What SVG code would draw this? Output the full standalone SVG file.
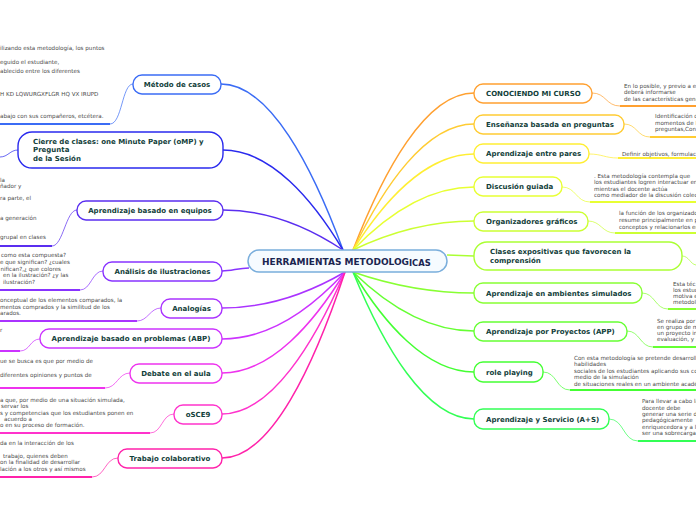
<svg xmlns="http://www.w3.org/2000/svg" width="696" height="520" viewBox="0 0 696 520">
<style>
.n{fill:#fff;stroke-width:1.4}
.t{font-family:"DejaVu Sans",Verdana,sans-serif;font-weight:bold;font-size:7px;fill:#12403a}
.tm{text-anchor:middle}
.s{font-family:"DejaVu Sans",Verdana,sans-serif;font-size:5.6px;fill:#4a4a4a}
.c{fill:none;stroke-width:1.5}
.u{fill:none;stroke-width:2}
.k{fill:none;stroke-width:1;opacity:.7}
</style>
<rect width="696" height="520" fill="#fff"/>
<g id="connectors">
<path class="c" stroke="#3b6cf5" d="M343,250 C312.5,167 269.8,84 221,84"/>
<path class="c" stroke="#2a2aee" d="M343,250 C313,200 271,150 223,150"/>
<path class="c" stroke="#5a2ef0" d="M343,250 C313,230 271,210 223,210"/>
<path class="c" stroke="#8833ff" d="M249,268 C238,268 232,271 222,271"/>
<path class="c" stroke="#aa33ff" d="M345,272 C314.25,290 271.2,308 222,308"/>
<path class="c" stroke="#cc33ff" d="M345,272 C314.25,305.5 271.2,339 222,339"/>
<path class="c" stroke="#ee33ee" d="M345,272 C314.25,322.5 271.2,373 222,373"/>
<path class="c" stroke="#ff33cc" d="M345,272 C314.25,343 271.2,414 222,414"/>
<path class="c" stroke="#ff22aa" d="M345,272 C314.25,365 271.2,458 222,458"/>
<path class="c" stroke="#ffa030" d="M353,250 C383.25,171.5 425.6,93 474,93"/>
<path class="c" stroke="#ffcc33" d="M353,250 C383.25,187 425.6,124 474,124"/>
<path class="c" stroke="#ffee33" d="M353,250 C383.25,202 425.6,154 474,154"/>
<path class="c" stroke="#e8ff33" d="M353,250 C383.25,218.5 425.6,187 474,187"/>
<path class="c" stroke="#ccff33" d="M353,250 C383.25,235.5 425.6,221 474,221"/>
<path class="c" stroke="#aaff33" d="M447,255 L474,256"/>
<path class="c" stroke="#88ff33" d="M353,272 C383.25,282.5 425.6,293 474,293"/>
<path class="c" stroke="#66ff33" d="M353,272 C383.25,301.5 425.6,331 474,331"/>
<path class="c" stroke="#44ff33" d="M353,272 C383.25,322 425.6,372 474,372"/>
<path class="c" stroke="#33ff55" d="M353,272 C383.25,345.5 425.6,419 474,419"/>
</g>
<g id="center">
<rect x="248" y="250" width="199" height="22" rx="11" fill="#f6fbff" stroke="#7aaedc" stroke-width="1.5"/>
<text x="262" y="264.5" font-family="DejaVu Sans,Verdana,sans-serif" font-weight="bold" font-size="9" fill="#1a2550">HERRAMIENTAS METODOLOG<tspan font-size="8.4" dy="1.3">ICAS</tspan></text>
</g>
<g id="metodo-casos">
<path class="k" stroke="#3b6cf5" d="M133,84 C122,84 122,124 110,124"/>
<path class="u" stroke="#3b6cf5" d="M110,124 L0,124"/>
<text class="s" x="0" y="50">ilizando esta metodología, los puntos</text>
<text class="s" x="0" y="64">eguido el estudiante,</text>
<text class="s" x="0" y="73">ablecido entre los diferentes</text>
<text class="s" x="0" y="96">H KD LQWURGXFLGR HQ VX IRUPD</text>
<text class="s" x="0" y="118">abajo con sus compañeros, etcétera.</text>
<rect class="n" stroke="#3b6cf5" x="133" y="75" width="88" height="19" rx="9"/>
<text class="t tm" x="177" y="87">Método de casos</text>
</g>
<g id="cierre">
<path class="k" stroke="#2a2aee" d="M18,150 C10,150 8,157 0,157"/>
<rect class="n" stroke="#2a2aee" x="18" y="132" width="205" height="36" rx="14"/>
<text class="t" x="33" y="144">Cierre de clases: one Minute Paper (oMP) y</text>
<text class="t" x="33" y="152">Pregunta</text>
<text class="t" x="33" y="160.5">de la Sesión</text>
</g>
<g id="equipos">
<path class="k" stroke="#5a2ef0" d="M77,210 C66,210 63,246 52,246"/>
<path class="u" stroke="#5a2ef0" d="M52,246 L0,246"/>
<text class="s" x="0" y="182">la</text>
<text class="s" x="0" y="188">ñador y</text>
<text class="s" x="0" y="200">ra parte, el</text>
<text class="s" x="0" y="220">a generación</text>
<text class="s" x="0" y="239">grupal en clases</text>
<rect class="n" stroke="#5a2ef0" x="77" y="201" width="146" height="19" rx="9"/>
<text class="t tm" x="150" y="213">Aprendizaje basado en equipos</text>
</g>
<g id="analisis">
<path class="k" stroke="#8833ff" d="M103,271 C92,271 91,290 80,290"/>
<path class="u" stroke="#8833ff" d="M80,290 L0,290"/>
<text class="s" x="1" y="257">como esta compuesta?</text>
<text class="s" x="0" y="264">e que significan? ¿cuales</text>
<text class="s" x="0.5" y="270.5">nifican?,¿ que colores</text>
<text class="s" x="3" y="277">en la ilustración? ¿y las</text>
<text class="s" x="3" y="283.5">ilustración?</text>
<rect class="n" stroke="#8833ff" x="103" y="262" width="119" height="19" rx="9"/>
<text class="t tm" x="162.5" y="274">Análisis de ilustraciones</text>
</g>
<g id="analogias">
<path class="k" stroke="#aa33ff" d="M161,308 C150,308 148,321 137,321"/>
<path class="u" stroke="#aa33ff" d="M137,321 L0,321"/>
<text class="s" x="0" y="302">onceptual de los elementos comparados, la</text>
<text class="s" x="0" y="308.5">mentos comprados y la similitud de los</text>
<text class="s" x="0" y="314.5">arados.</text>
<rect class="n" stroke="#aa33ff" x="161" y="299" width="61" height="19" rx="9"/>
<text class="t tm" x="191.5" y="311">Analogías</text>
</g>
<g id="abp">
<path class="k" stroke="#cc33ff" d="M40,339 C30,339 30,351 20,351"/>
<path class="u" stroke="#cc33ff" d="M20,351 L0,351"/>
<text class="s" x="0" y="332">r</text>
<rect class="n" stroke="#cc33ff" x="40" y="329" width="182" height="19" rx="9"/>
<text class="t tm" x="131" y="341">Aprendizaje basado en problemas (ABP)</text>
</g>
<g id="debate">
<path class="k" stroke="#ee33ee" d="M130,373 C118,373 117,388 105,388"/>
<path class="u" stroke="#ee33ee" d="M105,388 L0,388"/>
<text class="s" x="0" y="363">ue se busca es que por medio de</text>
<text class="s" x="0" y="377">diferentes opiniones y puntos de</text>
<rect class="n" stroke="#ee33ee" x="130" y="364" width="92" height="19" rx="9"/>
<text class="t tm" x="176" y="376">Debate en el aula</text>
</g>
<g id="osce9">
<path class="k" stroke="#ff33cc" d="M174,414 C162,414 162,433 150,433"/>
<path class="u" stroke="#ff33cc" d="M150,433 L0,433"/>
<text class="s" x="0" y="402">a que, por medio de una situación simulada,</text>
<text class="s" x="1" y="407.5">servar los</text>
<text class="s" x="0" y="415">s y competencias que los estudiantes ponen en</text>
<text class="s" x="4" y="421">acuerdo a</text>
<text class="s" x="0" y="427">o en su proceso de formación.</text>
<rect class="n" stroke="#ff33cc" x="174" y="405" width="48" height="19" rx="9"/>
<text class="t tm" x="198" y="417">oSCE9</text>
</g>
<g id="trabajo">
<path class="k" stroke="#ff22aa" d="M118,458 C105,458 105,477 92,477"/>
<path class="u" stroke="#ff22aa" d="M92,477 L0,477"/>
<text class="s" x="0" y="445">da en la interacción de los</text>
<text class="s" x="3" y="458">trabajo, quienes deben</text>
<text class="s" x="0" y="464">on la finalidad de desarrollar</text>
<text class="s" x="0" y="471">lación a los otros y así mismos</text>
<rect class="n" stroke="#ff22aa" x="118" y="449" width="104" height="19" rx="9"/>
<text class="t tm" x="170" y="461">Trabajo colaborativo</text>
</g>
<g id="conociendo">
<path class="k" stroke="#ffa030" d="M592,93 C606,93 606,106 620,106"/>
<path class="u" stroke="#ffa030" d="M620,106 L696,106"/>
<text class="s" x="624" y="88">En lo posible, y previo a e</text>
<text class="s" x="624" y="94">deberá informarse</text>
<text class="s" x="624" y="100.5">de las características gene</text>
<rect class="n" stroke="#ffa030" x="474" y="84" width="118" height="19" rx="9"/>
<text class="t" x="486" y="96">CONOCIENDO MI CURSO</text>
</g>
<g id="preguntas">
<path class="k" stroke="#ffcc33" d="M624,124 C637,124 637,137 650,137"/>
<path class="u" stroke="#ffcc33" d="M650,137 L696,137"/>
<text class="s" x="655" y="118">Identificación d</text>
<text class="s" x="655" y="124.5">momentos de l</text>
<text class="s" x="655" y="131">preguntas,Con</text>
<rect class="n" stroke="#ffcc33" x="474" y="115" width="150" height="19" rx="9"/>
<text class="t" x="486" y="127">Enseñanza basada en preguntas</text>
</g>
<g id="pares">
<path class="k" stroke="#ffee33" d="M589,154 C602,154 605,158 618,158"/>
<path class="u" stroke="#ffee33" d="M618,158 L696,158"/>
<text class="s" x="622" y="155.5">Definir objetivos, formulaci</text>
<rect class="n" stroke="#ffee33" x="474" y="144" width="115" height="19" rx="9"/>
<text class="t" x="486" y="156">Aprendizaje entre pares</text>
</g>
<g id="discusion">
<path class="k" stroke="#e8ff33" d="M562,187 C576,187 576,202 590,202"/>
<path class="u" stroke="#e8ff33" d="M590,202 L696,202"/>
<text class="s" x="594" y="177.5">. Esta metodología contempla que</text>
<text class="s" x="594" y="184">los estudiantes logren interactuar en</text>
<text class="s" x="594" y="190.5">mientras el docente actúa</text>
<text class="s" x="594" y="197">como mediador de la discusión colec</text>
<rect class="n" stroke="#e8ff33" x="474" y="177" width="88" height="19" rx="9"/>
<text class="t" x="486" y="189">Discusión guiada</text>
</g>
<g id="organizadores">
<path class="k" stroke="#ccff33" d="M588,221 C601,221 602,233 615,233"/>
<path class="u" stroke="#ccff33" d="M615,233 L696,233"/>
<text class="s" x="619" y="215">la función de los organizado</text>
<text class="s" x="619" y="222">resume principalmente en p</text>
<text class="s" x="619" y="228.5">conceptos y relacionarlos en</text>
<rect class="n" stroke="#ccff33" x="474" y="212" width="114" height="19" rx="9"/>
<text class="t" x="486" y="224">Organizadores gráficos</text>
</g>
<g id="clases">
<path class="k" stroke="#aaff33" d="M682,256 C689,256 690,264 696,265"/>
<rect class="n" stroke="#aaff33" x="474" y="242" width="208" height="28" rx="13"/>
<text class="t" x="490" y="253.5">Clases expositivas que favorecen la</text>
<text class="t" x="490" y="262.5">comprensión</text>
</g>
<g id="ambientes">
<path class="k" stroke="#88ff33" d="M642,293 C655,293 655,309 668,309"/>
<path class="u" stroke="#88ff33" d="M668,309 L696,309"/>
<text class="s" x="673" y="285.5">Esta téc</text>
<text class="s" x="673" y="291.5">los estud</text>
<text class="s" x="673" y="297.5">motiva e</text>
<text class="s" x="673" y="303.5">metodolo</text>
<rect class="n" stroke="#88ff33" x="474" y="283" width="168" height="20" rx="9"/>
<text class="t" x="486" y="296">Aprendizaje en ambientes simulados</text>
</g>
<g id="proyectos">
<path class="k" stroke="#66ff33" d="M627,331 C640,331 640,347 653,347"/>
<path class="u" stroke="#66ff33" d="M653,347 L696,347"/>
<text class="s" x="657" y="323">Se realiza por</text>
<text class="s" x="657" y="329">en grupo de m</text>
<text class="s" x="657" y="335">un proyecto in</text>
<text class="s" x="657" y="341">evaluación, y p</text>
<rect class="n" stroke="#66ff33" x="474" y="322" width="153" height="19" rx="9"/>
<text class="t" x="486" y="334">Aprendizaje por Proyectos (APP)</text>
</g>
<g id="role-playing">
<path class="k" stroke="#44ff33" d="M543,372 C557,372 556,390 570,390"/>
<path class="u" stroke="#44ff33" d="M570,390 L696,390"/>
<text class="s" x="574" y="360">Con esta metodología se pretende desarrolla</text>
<text class="s" x="574" y="366">habilidades</text>
<text class="s" x="574" y="373">sociales de los estudiantes aplicando sus co</text>
<text class="s" x="574" y="379">medio de la simulación</text>
<text class="s" x="574" y="385.5">de situaciones reales en un ambiente acadé</text>
<rect class="n" stroke="#44ff33" x="474" y="362" width="69" height="20" rx="9"/>
<text class="t" x="486" y="375">role playing</text>
</g>
<g id="servicio">
<path class="k" stroke="#33ff55" d="M609,419 C624,419 623,441 638,441"/>
<path class="u" stroke="#33ff55" d="M638,441 L696,441"/>
<text class="s" x="642" y="403">Para llevar a cabo la</text>
<text class="s" x="642" y="409.5">docente debe</text>
<text class="s" x="642" y="416">generar una serie d</text>
<text class="s" x="642" y="422">pedagógicamente</text>
<text class="s" x="642" y="429">enriquecedora y a l</text>
<text class="s" x="642" y="435">ser una sobrecarga</text>
<rect class="n" stroke="#33ff55" x="474" y="409" width="135" height="20" rx="9"/>
<text class="t" x="486" y="422">Aprendizaje y Servicio (A+S)</text>
</g>
</svg>
